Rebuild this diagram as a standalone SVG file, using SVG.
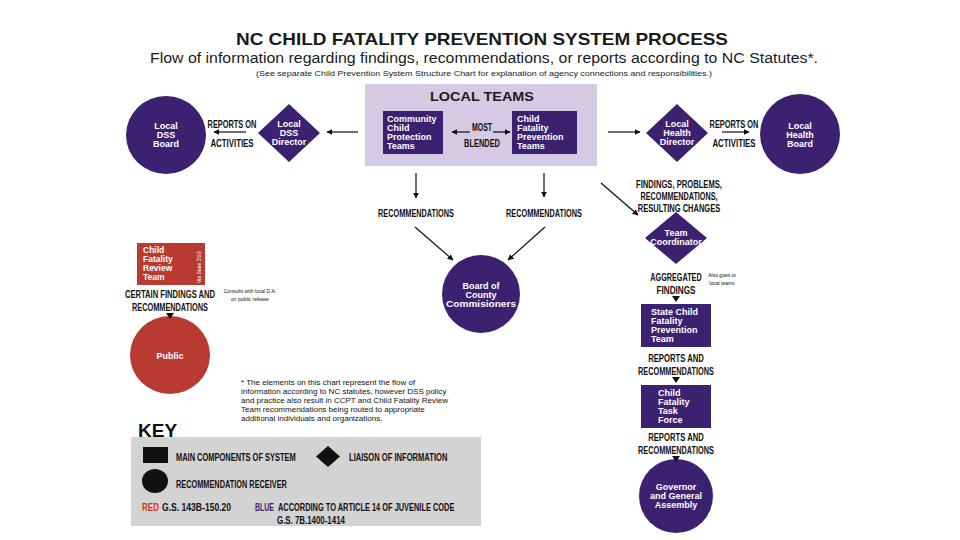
<svg xmlns="http://www.w3.org/2000/svg" width="960" height="540" viewBox="0 0 960 540">
<defs>
<marker id="ah" viewBox="0 0 10 10" refX="9" refY="5" markerWidth="6" markerHeight="6" orient="auto-start-reverse" markerUnits="userSpaceOnUse">
<path d="M0,0 L10,5 L0,10 z" fill="#111"/>
</marker>
<style>
.bg{fill:#ffffff}
.pu{fill:#3c2170}
.rd{fill:#b83a30}
.nt{font-family:"Liberation Sans",Arial,sans-serif;font-weight:bold;font-size:9px;fill:#ffffff}
.lb{font-family:"Liberation Sans",Arial,sans-serif;font-weight:bold;font-size:11px;fill:#111;text-anchor:middle}
.kl{font-family:"Liberation Sans",Arial,sans-serif;font-weight:bold;font-size:11px}
.sm{font-family:"Liberation Sans",Arial,sans-serif;font-size:5px;fill:#111}
.fn{font-family:"Liberation Sans",Arial,sans-serif;font-size:8px;fill:#111}
.cn{stroke:#111;stroke-width:1.2;fill:none;marker-end:url(#ah)}
.tri{fill:#111}
</style>
</defs>
<rect class="bg" x="0" y="0" width="960" height="540"/>

<g id="title">
<text x="482" y="45" font-family="'Liberation Sans',Arial,sans-serif" font-weight="bold" font-size="17" fill="#1a1a1a" text-anchor="middle" textLength="492" lengthAdjust="spacingAndGlyphs">NC CHILD FATALITY PREVENTION SYSTEM PROCESS</text>
<text x="484" y="63" font-family="'Liberation Sans',Arial,sans-serif" font-size="14" fill="#1a1a1a" text-anchor="middle" textLength="668" lengthAdjust="spacingAndGlyphs">Flow of information regarding findings, recommendations, or reports according to NC Statutes*.</text>
<text x="484" y="76" font-family="'Liberation Sans',Arial,sans-serif" font-size="7" fill="#1a1a1a" text-anchor="middle" textLength="456" lengthAdjust="spacingAndGlyphs">(See separate Child Prevention System Structure Chart for explanation of agency connections and responsibilities.)</text>
</g>

<g id="local-teams">
<rect x="365" y="84" width="232" height="82" fill="#d5cae3"/>
<text x="482" y="101" font-family="'Liberation Sans',Arial,sans-serif" font-weight="bold" font-size="12" fill="#1a1a1a" text-anchor="middle" textLength="104" lengthAdjust="spacingAndGlyphs">LOCAL TEAMS</text>
</g>

<g id="ccpt">
<rect class="pu" x="383" y="111" width="60" height="43"/>
<text class="nt"><tspan x="387" y="122">Community</tspan><tspan x="387" y="131">Child</tspan><tspan x="387" y="140">Protection</tspan><tspan x="387" y="149">Teams</tspan></text>
</g>

<g id="cfpt">
<rect class="pu" x="512" y="111" width="65" height="43"/>
<text class="nt"><tspan x="517" y="122">Child</tspan><tspan x="517" y="131">Fatality</tspan><tspan x="517" y="140">Prevention</tspan><tspan x="517" y="149">Teams</tspan></text>
</g>

<g id="local-dss-board">
<ellipse class="pu" cx="166" cy="135" rx="40" ry="39"/>
<text class="nt" text-anchor="middle"><tspan x="166" y="129">Local</tspan><tspan x="166" y="138">DSS</tspan><tspan x="166" y="147">Board</tspan></text>
</g>

<g id="local-dss-director">
<polygon class="pu" points="289,104 320,133 289,162 258,133"/>
<text class="nt" text-anchor="middle"><tspan x="289" y="127">Local</tspan><tspan x="289" y="136">DSS</tspan><tspan x="289" y="145">Director</tspan></text>
</g>

<g id="local-health-director">
<polygon class="pu" points="677,104 708,133 677,162 646,133"/>
<text class="nt" text-anchor="middle"><tspan x="677" y="127">Local</tspan><tspan x="677" y="136">Health</tspan><tspan x="677" y="145">Director</tspan></text>
</g>

<g id="local-health-board">
<ellipse class="pu" cx="800" cy="134" rx="40" ry="40"/>
<text class="nt" text-anchor="middle"><tspan x="800" y="129">Local</tspan><tspan x="800" y="138">Health</tspan><tspan x="800" y="147">Board</tspan></text>
</g>

<g id="board-of-county-commissioners">
<ellipse class="pu" cx="481" cy="294" rx="39" ry="39"/>
<text class="nt" text-anchor="middle"><tspan x="481" y="289">Board of</tspan><tspan x="481" y="298">County</tspan><tspan x="481" y="307" textLength="70" lengthAdjust="spacingAndGlyphs">Commisioners</tspan></text>
</g>

<g id="team-coordinator">
<polygon class="pu" points="676,212 707,238 676,264 645,238"/>
<text class="nt" text-anchor="middle"><tspan x="676" y="236">Team</tspan><tspan x="676" y="245">Coordinator</tspan></text>
</g>

<g id="state-cfpt">
<rect class="pu" x="641" y="304" width="70" height="43"/>
<text class="nt"><tspan x="651" y="315">State Child</tspan><tspan x="651" y="324">Fatality</tspan><tspan x="651" y="333">Prevention</tspan><tspan x="651" y="342">Team</tspan></text>
</g>

<g id="task-force">
<rect class="pu" x="641" y="385" width="70" height="43"/>
<text class="nt"><tspan x="658" y="396">Child</tspan><tspan x="658" y="405">Fatality</tspan><tspan x="658" y="414">Task</tspan><tspan x="658" y="423">Force</tspan></text>
</g>

<g id="governor">
<ellipse class="pu" cx="676" cy="496" rx="37" ry="37"/>
<text class="nt" text-anchor="middle"><tspan x="676" y="490">Governor</tspan><tspan x="676" y="499">and General</tspan><tspan x="676" y="508">Assembly</tspan></text>
</g>

<g id="cfrt">
<rect class="rd" x="137" y="243" width="68" height="42"/>
<text class="nt" style="font-size:8.5px"><tspan x="143" y="253">Child</tspan><tspan x="143" y="262">Fatality</tspan><tspan x="143" y="271">Review</tspan><tspan x="143" y="280">Team</tspan></text>
<text class="nt" style="font-size:5px;font-weight:normal" transform="translate(201,283) rotate(-90)">Via State DSS</text>
</g>

<g id="public">
<ellipse class="rd" cx="170" cy="355" rx="40" ry="39"/>
<text class="nt" text-anchor="middle" x="170" y="359">Public</text>
</g>

<g id="connectors">
<line class="cn" x1="358" y1="132" x2="327" y2="132"/>
<line class="cn" x1="246" y1="132" x2="214" y2="132"/>
<line class="cn" x1="608" y1="132" x2="640" y2="132"/>
<line class="cn" x1="722" y1="132" x2="749" y2="132"/>
<line class="cn" x1="470" y1="132" x2="452" y2="132"/>
<line class="cn" x1="493" y1="132" x2="510" y2="132"/>
<line class="cn" x1="416" y1="173" x2="416" y2="198"/>
<line class="cn" x1="544" y1="173" x2="544" y2="197"/>
<line class="cn" x1="415" y1="227" x2="453" y2="260"/>
<line class="cn" x1="545" y1="227" x2="508" y2="260"/>
<line class="cn" x1="601" y1="183" x2="638" y2="215"/>
<polygon class="tri" points="166,313 174,313 170,319"/>
<polygon class="tri" points="672,296 680,296 676,302"/>
<polygon class="tri" points="672,377 680,377 676,383"/>
<polygon class="tri" points="672,456 680,456 676,462"/>
</g>

<g id="labels">
<text class="lb" transform="translate(232,128) scale(0.674,1)">REPORTS ON</text>
<text class="lb" transform="translate(232,147) scale(0.713,1)">ACTIVITIES</text>
<text class="lb" transform="translate(734,128) scale(0.674,1)">REPORTS ON</text>
<text class="lb" transform="translate(734,147) scale(0.713,1)">ACTIVITIES</text>
<text class="lb" transform="translate(482,131) scale(0.63,1)">MOST</text>
<text class="lb" transform="translate(482,147) scale(0.677,1)">BLENDED</text>
<text class="lb" transform="translate(416,217) scale(0.666,1)">RECOMMENDATIONS</text>
<text class="lb" transform="translate(544,217) scale(0.666,1)">RECOMMENDATIONS</text>
<text class="lb" transform="translate(679,188) scale(0.693,1)">FINDINGS, PROBLEMS,</text>
<text class="lb" transform="translate(679,200) scale(0.658,1)">RECOMMENDATIONS,</text>
<text class="lb" transform="translate(679,212) scale(0.683,1)">RESULTING CHANGES</text>
<text class="lb" transform="translate(676,281) scale(0.66,1)">AGGREGATED</text>
<text class="lb" transform="translate(676,294) scale(0.742,1)">FINDINGS</text>
<text class="sm" x="722" y="277" text-anchor="middle">Also goes to</text>
<text class="sm" x="722" y="285" text-anchor="middle">local teams</text>
<text class="lb" transform="translate(676,362) scale(0.70,1)">REPORTS AND</text>
<text class="lb" transform="translate(676,375) scale(0.666,1)">RECOMMENDATIONS</text>
<text class="lb" transform="translate(676,441) scale(0.70,1)">REPORTS AND</text>
<text class="lb" transform="translate(676,454) scale(0.666,1)">RECOMMENDATIONS</text>
<text class="lb" transform="translate(170,298) scale(0.693,1)">CERTAIN FINDINGS AND</text>
<text class="lb" transform="translate(170,311) scale(0.666,1)">RECOMMENDATIONS</text>
<text class="sm" x="250" y="293" text-anchor="middle">Consults with local D.A.</text>
<text class="sm" x="250" y="301" text-anchor="middle">on public release</text>
</g>

<g id="footnote">
<text class="fn"><tspan x="241" y="385">* The elements on this chart represent the flow of</tspan><tspan x="241" y="394">information according to NC statutes, however DSS policy</tspan><tspan x="241" y="403">and practice also result in CCPT and Child Fatality Review</tspan><tspan x="241" y="412">Team recommendations being routed to appropriate</tspan><tspan x="241" y="421">additional individuals and organizations.</tspan></text>
</g>

<g id="key">
<rect x="131" y="437" width="350" height="89" fill="#d3d3d3"/>
<text x="138" y="437" font-family="'Liberation Sans',Arial,sans-serif" font-weight="bold" font-size="19" fill="#111">KEY</text>
<rect x="143" y="447" width="25" height="16" fill="#111"/>
<text class="kl" fill="#111" transform="translate(176,461) scale(0.68,1)">MAIN COMPONENTS OF SYSTEM</text>
<polygon points="328,446 340,456.5 328,467 316,456.5" fill="#111"/>
<text class="kl" fill="#111" transform="translate(349,461) scale(0.69,1)">LIAISON OF INFORMATION</text>
<ellipse cx="155" cy="481" rx="13" ry="12" fill="#111"/>
<text class="kl" fill="#111" transform="translate(176,488) scale(0.669,1)">RECOMMENDATION RECEIVER</text>
<text class="kl" fill="#d0392b" transform="translate(142,511) scale(0.73,1)">RED</text>
<text class="kl" fill="#111" transform="translate(162,511) scale(0.78,1)">G.S. 143B-150.20</text>
<text class="kl" fill="#3c2170" transform="translate(255,511) scale(0.635,1)">BLUE</text>
<text class="kl" fill="#111" transform="translate(278,511) scale(0.675,1)">ACCORDING TO ARTICLE 14 OF JUVENILE CODE</text>
<text class="kl" fill="#111" transform="translate(277,524) scale(0.717,1)">G.S. 7B.1400-1414</text>
</g>
</svg>
